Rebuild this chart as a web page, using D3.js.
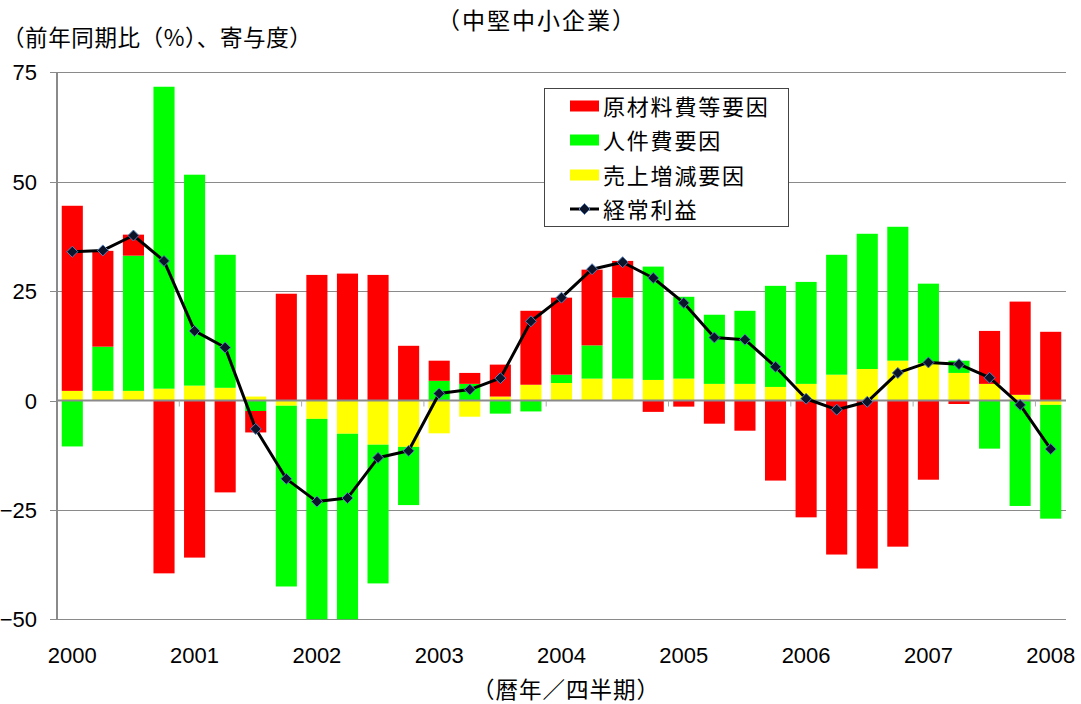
<!DOCTYPE html>
<html>
<head>
<meta charset="utf-8">
<script src="https://cdn.jsdelivr.net/npm/d3@7"></script>
<style>
  body { margin: 0; background: #fff; }
  svg { display: block; }
  .jp { font-family: "Noto Sans CJK JP", "Noto Sans", sans-serif; }
  .num { font-family: "Liberation Sans", Arial, sans-serif; }
</style>
</head>
<body>
<div id="chart"></div>
<script>
// categories: 2000Q1 .. 2008Q1
var quarters = ["2000Q1","2000Q2","2000Q3","2000Q4","2001Q1","2001Q2","2001Q3","2001Q4",
  "2002Q1","2002Q2","2002Q3","2002Q4","2003Q1","2003Q2","2003Q3","2003Q4",
  "2004Q1","2004Q2","2004Q3","2004Q4","2005Q1","2005Q2","2005Q3","2005Q4",
  "2006Q1","2006Q2","2006Q3","2006Q4","2007Q1","2007Q2","2007Q3","2007Q4","2008Q1"];
var yearLabels = ["2000","2001","2002","2003","2004","2005","2006","2007","2008"];
var yTicks = [-50, -25, 0, 25, 50, 75];

// 原材料費等要因
var material = [42.3, 21.9, 4.8, -39.5, -35.9, -21.0, -4.9, 24.4,
  28.7, 29.0, 28.7, 12.5, 4.6, 2.5, 7.3, 16.9,
  17.6, 17.3, 8.4, -2.6, -1.4, -5.3, -6.9, -18.3,
  -26.7, -35.2, -38.4, -33.4, -18.1, -0.8, 12.1, 21.3, 15.7];
// 人件費要因
var labor = [-10.5, 10.1, 30.9, 69.0, 48.2, 30.4, -2.4, -41.3,
  -47.5, -43.7, -31.7, -13.3, 4.5, 3.8, -3.0, -2.5,
  1.9, 7.6, 18.5, 25.9, 18.7, 15.8, 16.7, 23.1,
  23.3, 27.4, 30.9, 30.6, 18.2, 2.8, -11.0, -24.1, -26.0];
// 売上増減要因
var sales = [2.2, 2.2, 2.2, 2.7, 3.4, 2.9, 0.9, -1.2,
  -4.2, -7.6, -10.1, -10.6, -7.5, -3.7, 0.9, 3.6,
  4.0, 5.0, 5.0, 4.7, 5.0, 3.8, 3.8, 3.1,
  3.8, 5.9, 7.2, 9.1, 8.5, 6.3, 3.8, 1.3, -1.0];
// 経常利益
var profit = [34.0, 34.3, 37.7, 31.9, 15.9, 12.1, -6.5, -17.9,
  -23.1, -22.3, -13.1, -11.5, 1.6, 2.5, 5.1, 18.1,
  23.5, 30.0, 31.6, 28.0, 22.3, 14.4, 13.9, 7.7,
  0.4, -2.1, -0.3, 6.3, 8.7, 8.3, 5.2, -1.0, -11.1];

var seriesNames = ["売上増減要因", "人件費要因", "原材料費等要因"];
var legendNames = ["原材料費等要因", "人件費要因", "売上増減要因", "経常利益"];

(function () {
  var width = 1081, height = 704;
  var layout = { left: 57, right: 1066, top: 72.3, bottom: 619.3 };
  var colors = { "原材料費等要因": "#ff0000", "人件費要因": "#00ff00", "売上増減要因": "#ffff00" };
  var gridColor = "#8a8a8a";

  var svg = d3.select("#chart").append("svg")
    .attr("width", width).attr("height", height);

  var x = d3.scaleBand().domain(quarters)
    .range([layout.left, layout.right])
    .paddingInner(0.31).paddingOuter(0.155);
  var y = d3.scaleLinear().domain([-50, 75]).range([layout.bottom, layout.top]);

  // rows for stacking (series order: sales, labor, material -> nearest zero first)
  var rows = quarters.map(function (q, i) {
    return { q: q, "売上増減要因": sales[i], "人件費要因": labor[i], "原材料費等要因": material[i] };
  });
  var stacked = d3.stack().keys(seriesNames)
    .offset(d3.stackOffsetDiverging)(rows);

  drawGrid();
  drawBars();
  drawAxes();
  drawLine();
  drawLegend();
  drawTitles();

  function drawGrid() {
    var g = svg.append("g").attr("class", "grid");
    g.selectAll("line").data(yTicks.filter(function (d) { return d !== 0; }))
      .enter().append("line")
      .attr("x1", layout.left).attr("x2", layout.right)
      .attr("y1", function (d) { return Math.round(y(d)) + 0.5; })
      .attr("y2", function (d) { return Math.round(y(d)) + 0.5; })
      .attr("stroke", gridColor).attr("stroke-width", 1);
  }

  function drawBars() {
    svg.append("clipPath").attr("id", "plot-clip")
      .append("rect")
      .attr("x", layout.left).attr("y", layout.top)
      .attr("width", layout.right - layout.left)
      .attr("height", layout.bottom - layout.top);
    var g = svg.append("g").attr("clip-path", "url(#plot-clip)");
    g.selectAll("g.series").data(stacked).enter().append("g")
      .attr("class", "series")
      .attr("fill", function (s) { return colors[s.key]; })
      .selectAll("rect").data(function (s) { return s; })
      .enter().append("rect")
      .attr("x", function (d) { return x(d.data.q); })
      .attr("width", x.bandwidth())
      .attr("y", function (d) { return y(Math.max(d[0], d[1])); })
      .attr("height", function (d) { return Math.abs(y(d[0]) - y(d[1])); });
  }

  function drawAxes() {
    // y axis line
    svg.append("line")
      .attr("x1", layout.left).attr("x2", layout.left)
      .attr("y1", layout.top).attr("y2", layout.bottom)
      .attr("stroke", gridColor).attr("stroke-width", 2);
    // y ticks
    var yAxis = svg.append("g").attr("class", "num");
    yAxis.selectAll("line").data(yTicks).enter().append("line")
      .attr("x1", layout.left - 7).attr("x2", layout.left)
      .attr("y1", function (d) { return Math.round(y(d)) + 0.5; })
      .attr("y2", function (d) { return Math.round(y(d)) + 0.5; })
      .attr("stroke", gridColor);
    yAxis.selectAll("text").data(yTicks).enter().append("text")
      .attr("x", 37).attr("y", function (d) { return y(d) + 8; })
      .attr("text-anchor", "end")
      .attr("font-size", 22)
      .attr("fill", "#000")
      .text(function (d) { return d3.format("d")(d); });

    // zero axis line
    svg.append("line")
      .attr("x1", layout.left).attr("x2", layout.right)
      .attr("y1", y(0)).attr("y2", y(0))
      .attr("stroke", gridColor).attr("stroke-width", 2);
    // x ticks every four quarters, on the zero line
    var step = x.step();
    var tickPos = d3.range(4, quarters.length, 4).map(function (i) { return layout.left + i * step; });
    svg.append("g").selectAll("line").data(tickPos).enter().append("line")
      .attr("x1", function (d) { return d; }).attr("x2", function (d) { return d; })
      .attr("y1", y(0)).attr("y2", y(0) + 6)
      .attr("stroke", "#aaa").attr("stroke-width", 1);
    // year labels at bottom, under the first quarter of each year
    svg.append("g").attr("class", "num").selectAll("text").data(yearLabels).enter().append("text")
      .attr("x", function (d) { return x(d + "Q1") + x.bandwidth() / 2; })
      .attr("y", 663)
      .attr("text-anchor", "middle")
      .attr("font-size", 22)
      .text(function (d) { return d; });
  }

  function drawLine() {
    var pts = quarters.map(function (q, i) { return [x(q) + x.bandwidth() / 2, y(profit[i])]; });
    svg.append("path")
      .attr("d", d3.line()(pts))
      .attr("fill", "none").attr("stroke", "#000")
      .attr("stroke-width", 3).attr("stroke-linejoin", "round");
    svg.append("g").selectAll("path").data(pts).enter().append("path")
      .attr("d", "M0,-5.5L5.5,0L0,5.5L-5.5,0Z")
      .attr("transform", function (d) { return "translate(" + d[0] + "," + d[1] + ")"; })
      .attr("fill", "#0b1428").attr("stroke", "#5b80bd").attr("stroke-width", 1);
  }

  function drawLegend() {
    var lg = svg.append("g").attr("class", "jp");
    lg.append("rect")
      .attr("x", 544.5).attr("y", 88.5).attr("width", 244).attr("height", 138)
      .attr("fill", "#fff").attr("stroke", "#444").attr("stroke-width", 1);
    var rowY = [106, 140, 175, 209];
    legendNames.forEach(function (name, i) {
      if (i < 3) {
        lg.append("rect")
          .attr("x", 570).attr("y", rowY[i] - 5.5).attr("width", 29).attr("height", 11)
          .attr("fill", colors[name]);
      } else {
        lg.append("line")
          .attr("x1", 570).attr("x2", 599).attr("y1", rowY[i]).attr("y2", rowY[i])
          .attr("stroke", "#000").attr("stroke-width", 3);
        lg.append("path")
          .attr("d", "M0,-5.5L5.5,0L0,5.5L-5.5,0Z")
          .attr("transform", "translate(584.5," + rowY[i] + ")")
          .attr("fill", "#0b1428").attr("stroke", "#5b80bd").attr("stroke-width", 1);
      }
      lg.append("text")
        .attr("x", 603).attr("y", rowY[i] + 9)
        .attr("font-size", 22).attr("letter-spacing", 1.8)
        .text(name);
    });
  }

  function drawTitles() {
    svg.append("text").attr("class", "jp")
      .attr("x", 537).attr("y", 29)
      .attr("text-anchor", "middle").attr("font-size", 23)
      .attr("letter-spacing", 2)
      .text("（中堅中小企業）");
    svg.append("text").attr("class", "jp")
      .attr("x", 2).attr("y", 46)
      .attr("font-size", 22.5).attr("letter-spacing", 0.6)
      .text("（前年同期比（%）、寄与度）");
    svg.append("text").attr("class", "jp")
      .attr("x", 566).attr("y", 698)
      .attr("text-anchor", "middle").attr("font-size", 22.5)
      .attr("letter-spacing", 1)
      .text("（暦年／四半期）");
  }
})();
</script>
</body>
</html>
